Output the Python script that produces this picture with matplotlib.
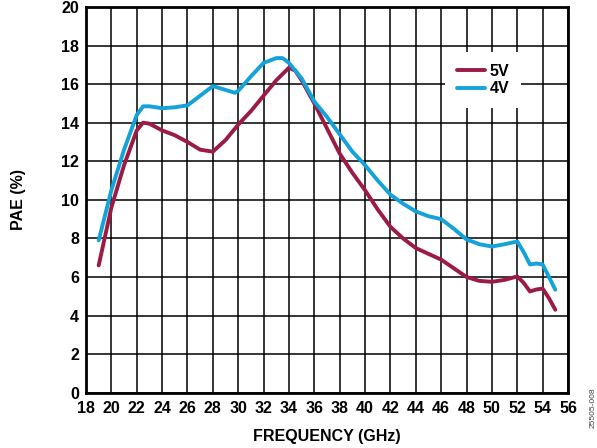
import matplotlib
matplotlib.use("Agg")
import matplotlib.pyplot as plt

plt.rcParams['font.family'] = ['Liberation Sans', 'DejaVu Sans']
plt.rcParams['font.weight'] = 'bold'

freq_5v = [19, 20, 21, 22, 22.5, 23, 24, 25, 26, 27, 28, 29, 30, 31, 32, 33, 34, 34.5,
           35, 36, 37, 38, 39, 40, 41, 42, 43, 44, 45, 46, 47, 48, 49, 50, 51, 52,
           52.5, 53, 53.5, 54, 54.5, 55]
pae_5v = [6.6, 9.6, 11.8, 13.6, 14.0, 13.95, 13.6, 13.35, 13.0, 12.6, 12.5, 13.1, 13.9,
          14.6, 15.4, 16.2, 16.85, 16.7, 16.2, 15.0, 13.7, 12.4, 11.4, 10.5, 9.5, 8.6,
          8.0, 7.5, 7.2, 6.9, 6.45, 6.0, 5.8, 5.75, 5.85, 6.03, 5.7, 5.25, 5.35, 5.4,
          4.9, 4.3]

freq_4v = [19, 20, 21, 22, 22.5, 23, 24, 25, 26, 27, 28, 29, 29.75, 30, 31, 32, 33,
           33.5, 34, 35, 36, 37, 38, 39, 40, 41, 42, 43, 44, 45, 46, 47, 48, 49, 50,
           51, 52, 52.5, 53, 53.5, 54, 54.5, 55]
pae_4v = [7.9, 10.5, 12.6, 14.4, 14.85, 14.85, 14.75, 14.8, 14.9, 15.4, 15.9, 15.7,
          15.55, 15.65, 16.4, 17.1, 17.35, 17.35, 17.1, 16.3, 15.1, 14.3, 13.4, 12.5,
          11.8, 11.0, 10.27, 9.8, 9.4, 9.15, 9.0, 8.5, 7.95, 7.7, 7.58, 7.7, 7.84, 7.3,
          6.65, 6.7, 6.65, 6.0, 5.34]

x_ticks = list(range(18, 57, 2))
y_ticks = list(range(0, 21, 2))

FS = 11.5

fig = plt.figure(figsize=(5.97, 4.48), dpi=100)
ax = fig.add_axes([86/597, 1-392.7/448, (568-86)/597, (392.7-7)/448])

ax.plot(freq_5v, pae_5v, color='#9b1b45', lw=2.8, label='5V', solid_capstyle='round',
        solid_joinstyle='round', zorder=3)
ax.plot(freq_4v, pae_4v, color='#13a3d8', lw=2.8, label='4V', solid_capstyle='round',
        solid_joinstyle='round', zorder=3)

ax.set_xlim(18, 56)
ax.set_ylim(0, 20)
ax.set_xticks(x_ticks)
ax.set_yticks(y_ticks)
ax.grid(True, color='black', lw=1.1)
ax.set_axisbelow(True)
for s in ax.spines.values():
    s.set_linewidth(2)
ax.tick_params(axis='both', length=0, labelsize=FS)
ax.tick_params(axis='x', pad=6)
ax.tick_params(axis='y', pad=5)
for lbl in ax.get_xticklabels() + ax.get_yticklabels():
    lbl.set_fontweight('bold')

ax.set_xlabel('FREQUENCY (GHz)', fontsize=FS, fontweight='bold', labelpad=9)
ax.set_ylabel('PAE (%)', fontsize=FS, fontweight='bold', labelpad=25)

leg = ax.legend(loc='upper left', bbox_to_anchor=(0.745, 0.884), frameon=True,
                fancybox=False, edgecolor='none', facecolor='white', framealpha=1,
                fontsize=FS, handlelength=1.75, handletextpad=0.3,
                labelspacing=0.15, borderpad=0.75, borderaxespad=0)
for t in leg.get_texts():
    t.set_fontweight('bold')

fig.text(0.993, 0.09, '25505-008', rotation=90, fontsize=6, fontweight='normal',
         ha='center', va='center', color='#444444')

fig.savefig('out.png', dpi=100)
